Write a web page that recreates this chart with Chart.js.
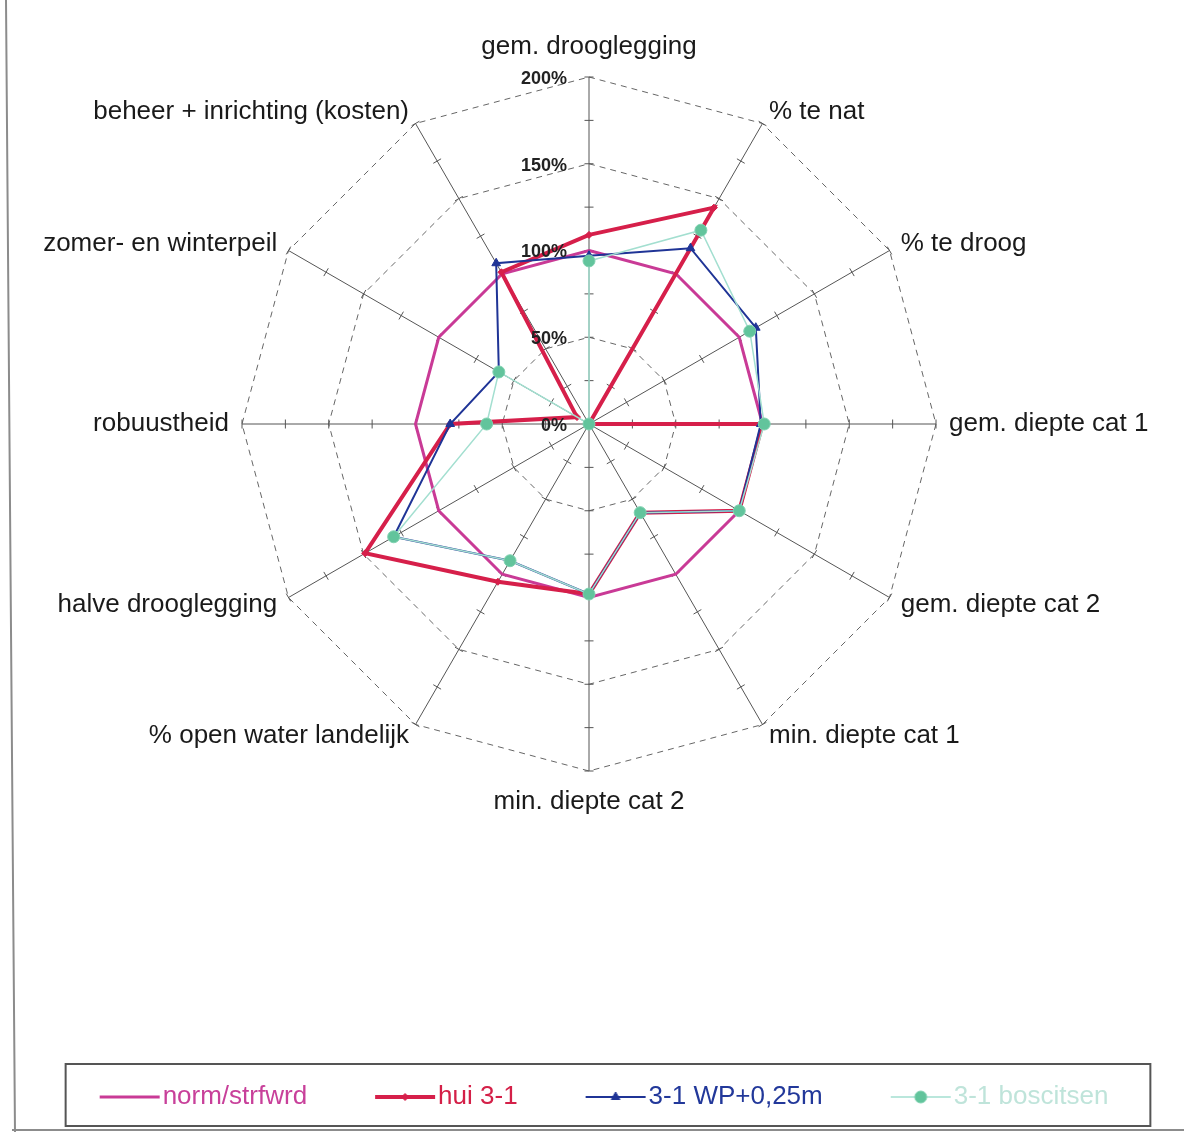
<!DOCTYPE html>
<html>
<head>
<meta charset="utf-8">
<script src="https://cdn.jsdelivr.net/npm/chart.js@4.4.1/dist/chart.umd.min.js"></script>
<style>
  html, body { margin: 0; padding: 0; background: #fff; }
  #wrap { width: 1184px; height: 1132px; }
</style>
</head>
<body>
<div id="wrap"><canvas id="radar" width="1184" height="1132"></canvas></div>
<script>
const labels = [
  'gem. drooglegging', '% te nat', '% te droog', 'gem. diepte cat 1',
  'gem. diepte cat 2', 'min. diepte cat 1', 'min. diepte cat 2',
  '% open water landelijk', 'halve drooglegging', 'robuustheid',
  'zomer- en winterpeil', 'beheer + inrichting (kosten)'
];
const seriesNames = ['norm/strfwrd', 'hui 3-1', '3-1 WP+0,25m', '3-1 boscitsen'];
const normValues  = [100, 100, 100, 100, 100, 100, 100, 100, 100, 100, 100, 100];
const huiValues   = [109, 144,   0, 100, 100,  59,  98, 105, 149,  80,   8, 101];
const wpValues    = [ 97, 117, 111,  99, 100,  59,  98,  91, 130,  80,  60, 107];
const basisValues = [ 94, 129, 107, 101, 100,  59,  98,  91, 130,  59,  60,   0];
const tickValues = [0, 50, 100, 150, 200];
const tickLabels = ['0%', '50%', '100%', '150%', '200%'];

const FONT = '"Liberation Sans", Arial, Helvetica, sans-serif';
const textColors = ['#c8409a', '#d42048', '#22389a', '#bfe4da'];
const axisTickStep = 25;
const legendShift = 19;

// small canvas with line + marker, used as legend sample
function legendIcon(ds) {
  const c = document.createElement('canvas');
  c.width = 62; c.height = 18;
  const g = c.getContext('2d');
  g.strokeStyle = ds.borderColor;
  g.lineWidth = ds.borderWidth;
  g.beginPath(); g.moveTo(1, 9); g.lineTo(61, 9); g.stroke();
  if (ds.pointRadius > 0) {
    g.fillStyle = ds.pointBackgroundColor;
    g.strokeStyle = ds.pointBorderColor;
    g.lineWidth = 1;
    Chart.helpers.drawPoint(g, {pointStyle: ds.pointStyle, radius: ds.pointRadius, borderWidth: 1, rotation: 0}, 31, 9);
  }
  return c;
}

const decor = {
  id: 'decor',
  afterLayout(chart) {
    chart.legend.left += legendShift;
    chart.legend.right += legendShift;
  },
  beforeDatasetsDraw(chart) {
    const r = chart.scales.r, ctx = chart.ctx;
    ctx.save();
    ctx.strokeStyle = '#555';
    ctx.lineWidth = 1;
    labels.forEach((_, i) => {
      for (let v = axisTickStep; v <= r.max; v += axisTickStep) {
        const p = r.getPointPosition(i, r.getDistanceFromCenterForValue(v));
        const nx = -Math.sin(p.angle), ny = Math.cos(p.angle);
        ctx.beginPath();
        ctx.moveTo(p.x - nx * 4.5, p.y - ny * 4.5);
        ctx.lineTo(p.x + nx * 4.5, p.y + ny * 4.5);
        ctx.stroke();
      }
    });
    ctx.restore();
  },
  afterDatasetsDraw(chart) {
    const r = chart.scales.r, ctx = chart.ctx;
    ctx.save();
    ctx.font = 'bold 18px ' + FONT;
    ctx.fillStyle = '#222';
    ctx.textAlign = 'right';
    ctx.textBaseline = 'middle';
    tickValues.forEach((v, k) => {
      const p = r.getPointPosition(0, r.getDistanceFromCenterForValue(v));
      ctx.fillText(tickLabels[k], p.x - 22, p.y + 2);
    });
    ctx.restore();
  },
  afterDraw(chart) {
    const ctx = chart.ctx;
    const hb = chart.legend.legendHitBoxes;
    const first = hb[0], last = hb[hb.length - 1];
    ctx.save();
    ctx.strokeStyle = '#555';
    ctx.lineWidth = 2;
    const x0 = first.left - 44;
    const x1 = last.left + last.width + 42;
    ctx.strokeRect(x0, first.top - 20, x1 - x0, first.height + 36);
    // scan frame lines
    ctx.strokeStyle = '#8c8c8c';
    ctx.beginPath();
    ctx.moveTo(6, 0); ctx.lineTo(15, chart.height);
    ctx.moveTo(12, chart.height - 2); ctx.lineTo(chart.width, chart.height - 2);
    ctx.stroke();
    ctx.restore();
  }
};

new Chart(document.getElementById('radar'), {
  type: 'radar',
  data: {
    labels: labels,
    datasets: [
      { label: seriesNames[0], data: normValues, borderColor: '#c93a96', borderWidth: 3,
        pointRadius: 0, fill: false, order: 4 },
      { label: seriesNames[1], data: huiValues, borderColor: '#d61f4a', borderWidth: 4,
        pointStyle: 'rectRot', pointRadius: 3.5, pointBackgroundColor: '#d61f4a',
        pointBorderColor: '#d61f4a', pointBorderWidth: 1, fill: false, order: 3 },
      { label: seriesNames[2], data: wpValues, borderColor: '#1f3496', borderWidth: 2,
        pointStyle: 'triangle', pointRadius: 5, pointBackgroundColor: '#1f3496',
        pointBorderColor: '#1f3496', pointBorderWidth: 1, fill: false, order: 2 },
      { label: seriesNames[3], data: basisValues, borderColor: '#a3dfd0', borderWidth: 1.5,
        pointStyle: 'circle', pointRadius: 6, pointBackgroundColor: '#62c49c',
        pointBorderColor: '#7fd1b0', pointBorderWidth: 1, fill: false, order: 1 }
    ]
  },
  options: {
    responsive: false,
    animation: false,
    layout: { padding: { left: 0, right: 4, top: 46, bottom: 12 } },
    plugins: {
      tooltip: { enabled: false },
      legend: {
        position: 'bottom',
        title: { display: true, text: '', font: { size: 12 }, padding: { top: 189, bottom: 0 } },
        labels: {
          usePointStyle: true,
          pointStyleWidth: 40,
          padding: 78,
          font: { family: FONT, size: 26 },
          generateLabels: (chart) => chart.data.datasets.map((ds, i) => ({
            text: ds.label,
            fontColor: textColors[i],
            pointStyle: legendIcon(ds),
            fillStyle: 'transparent',
            strokeStyle: 'transparent',
            lineWidth: 0,
            hidden: false,
            datasetIndex: i
          }))
        }
      }
    },
    scales: {
      r: {
        min: 0,
        max: 200,
        ticks: { stepSize: 50, display: false },
        grid: { color: '#666', lineWidth: 1 },
        border: { dash: [6, 5] },
        angleLines: { color: '#555', lineWidth: 1 },
        pointLabels: {
          color: '#1a1a1a',
          font: { family: FONT, size: 26, lineHeight: '1px' },
          padding: (ctx) => (ctx.index % 6 === 0 ? 30 : 13)
        }
      }
    }
  },
  plugins: [decor]
});
</script>
</body>
</html>
